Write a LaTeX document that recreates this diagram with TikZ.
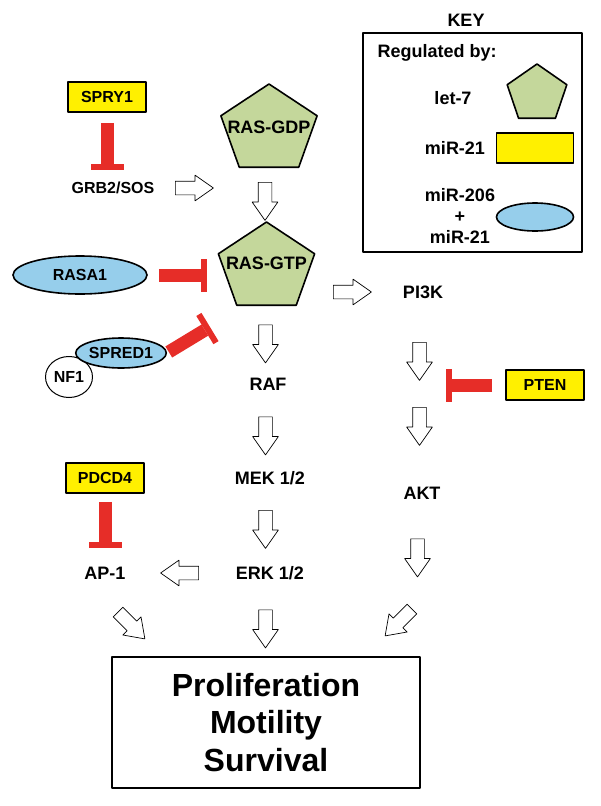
\documentclass[tikz,border=0pt]{standalone}
\usepackage{fontspec}
\setmainfont{Liberation Sans}
\usetikzlibrary{shapes.geometric,shapes.arrows,arrows.meta}
\definecolor{rasgreen}{RGB}{196,215,155}
\definecolor{mirblue}{RGB}{150,206,235}
\definecolor{miryellow}{RGB}{255,240,0}
\definecolor{inhred}{RGB}{230,45,40}
\newcommand{\boxfont}{\bfseries\fontsize{16}{19}\selectfont}
\begin{document}
\begin{tikzpicture}[x=1pt,y=-1pt,line join=round,font=\bfseries\fontsize{18}{21}\selectfont,
	ras/.style={regular polygon,regular polygon sides=5,draw,line width=1.6pt,fill=rasgreen,inner sep=0pt,minimum size=92pt,xscale=1.1},
	mirbox/.style={draw,line width=1.8pt,fill=miryellow,minimum width=78pt,minimum height=30pt,inner sep=0pt,font=\boxfont},
	mirell/.style={ellipse,draw,line width=1.6pt,fill=mirblue,inner sep=0pt,font=\boxfont},
	blk/.style={single arrow,draw,line width=.7pt,fill=white,inner xsep=0pt,inner ysep=6.5pt,minimum height=38pt,single arrow head extend=6pt,single arrow tip angle=70},
	inhib/.style={draw=inhred,line width=13pt,-{Rectangle[length=6pt,width=33pt,line width=0pt]}}]
	\useasboundingbox (0,0) rectangle (601,806);
	\node (keylbl) at (466,20) {KEY};
	\node[draw,line width=1.8pt,minimum width=219pt,minimum height=219pt] (keybox) at (472.5,142.5) {};
	\node[anchor=west] (regby) at (374,53) {Regulated by:};
	\node (let7) at (453,98) {let-7};
	\node[ras,minimum size=60pt,xscale=.95] (keyras) at (537,94) {};
	\node (mir21) at (455,148) {miR-21};
	\node[mirbox,minimum width=77pt] (keyrect) at (535,148) {};
	\node[align=center] (mir206) at (460,216) {miR-206\\+\\miR-21};
	\node[mirell,minimum width=77pt,minimum height=28pt] (keyell) at (535,217) {};
	\node[mirbox] (spry) at (107,97) {SPRY1};
	\node[font=\boxfont] (grb) at (113,188) {GRB2/SOS};
	\node[ras,label={[yshift=3pt]center:RAS-GDP}] (gdp) at (269,130) {};
	\node[ras,label={[yshift=5pt]center:RAS-GTP}] (gtp) at (266.5,268) {};
	\node (pi3k) at (423,292) {PI3K};
	\node[mirell,minimum width=134pt,minimum height=38pt] (rasa) at (80,275) {RASA1};
	\node[ellipse,draw,line width=1pt,fill=white,minimum width=47pt,minimum height=41pt,inner sep=0pt,font=\boxfont] (nf1) at (69,377) {NF1};
	\node[mirell,minimum width=85pt,minimum height=30pt] (spred) at (121,353) {SPRED1};
	\node (raf) at (268,384) {RAF};
	\node (mek) at (270,478) {MEK 1/2};
	\node (erk) at (270,573) {ERK 1/2};
	\node (akt) at (422,493) {AKT};
	\node[mirbox] (pten) at (545,385) {PTEN};
	\node[mirbox] (pdcd) at (105,478) {PDCD4};
	\node (ap1) at (105,573) {AP-1};
	\node[draw,line width=2pt,minimum width=308pt,minimum height=131pt,align=center,font=\bfseries\fontsize{32}{37.5}\selectfont] (res) at (266,722.5) {Proliferation\\Motility\\Survival};
	\node[blk] (grbarr) at (189.5,188) {};
	\node[blk,rotate=-90] (gdparr) at (265,196.5) {};
	\node[blk] (gtparr) at (347.5,292) {};
	\node[blk,rotate=-90] (rafarr) at (265.5,339) {};
	\node[blk,rotate=-90] (mekarr) at (265.5,431) {};
	\node[blk,rotate=-90] (erkarr) at (265.5,524.5) {};
	\node[blk,rotate=180] (aparr) at (184.5,573) {};
	\node[blk,rotate=-90] (resarr) at (265.5,624) {};
	\node[blk,rotate=-90] (pi3karr) at (419.5,356.5) {};
	\node[blk,rotate=-90] (pi3karr2) at (419.5,421.5) {};
	\node[blk,rotate=-90] (aktarr) at (417.5,553) {};
	\node[blk,rotate=-45] (apresarr) at (128,622) {};
	\node[blk,rotate=-135] (aktresarr) at (402,619) {};
	\coordinate (grbhit) at (107,170);
	\coordinate (gtphit) at (207,275);
	\coordinate (gtphit2) at (210,327);
	\coordinate (akthit) at (446,385);
	\coordinate (aphit) at (105,548);
	\draw[inhib,shorten <=10pt] (spry.south) -- (grbhit);
	\draw[inhib,shorten <=11pt] (rasa.east) -- (gtphit);
	\draw[inhib,shorten <=2pt] (spred.east) -- (gtphit2);
	\draw[inhib,shorten <=13pt] (pten.west) -- (akthit);
	\draw[inhib,shorten <=8pt] (pdcd.south) -- (aphit);
\end{tikzpicture}
\end{document}
